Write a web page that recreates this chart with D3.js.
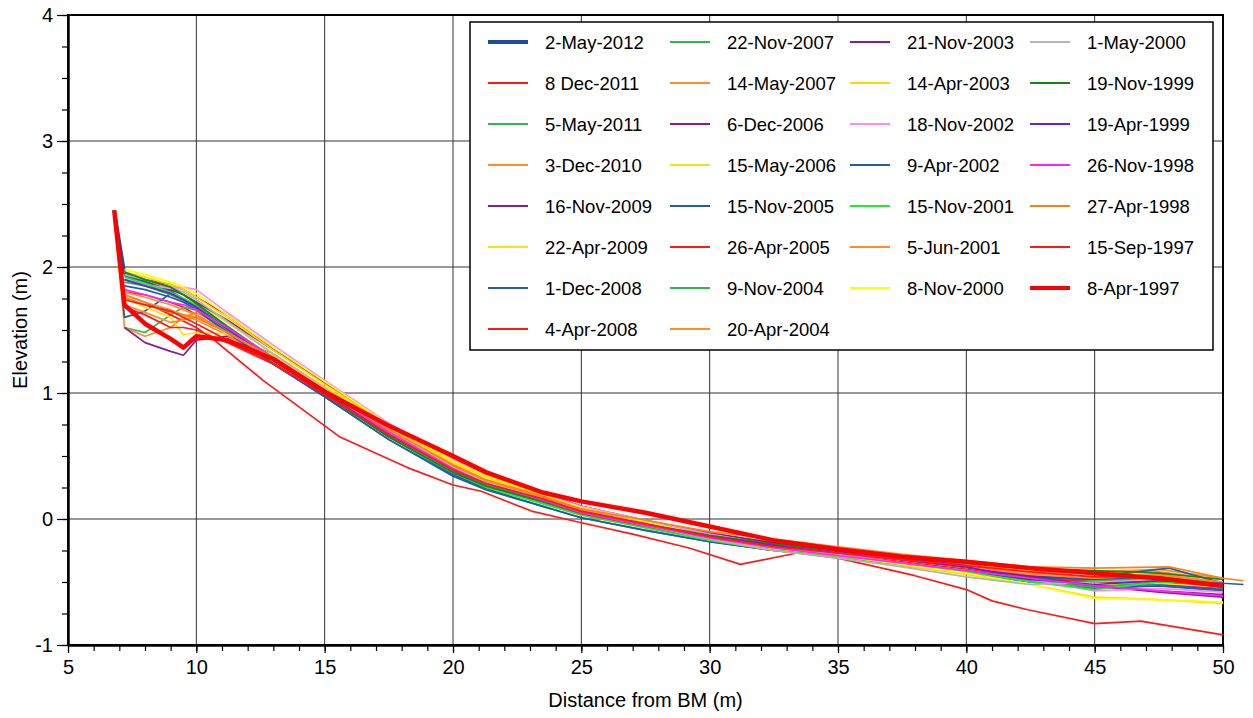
<!DOCTYPE html>
<html>
<head>
<meta charset="utf-8">
<script src="https://cdn.jsdelivr.net/npm/d3@7"></script>
<style>
  body { margin: 0; background: #fff; }
  svg { display: block; font-family: "Liberation Sans", Arial, sans-serif; }
</style>
</head>
<body>
<script>
// survey dates, in legend order (newest first)
var surveyDates = ["2-May-2012", "8 Dec-2011", "5-May-2011", "3-Dec-2010", "16-Nov-2009", "22-Apr-2009", "1-Dec-2008", "4-Apr-2008",
  "22-Nov-2007", "14-May-2007", "6-Dec-2006", "15-May-2006", "15-Nov-2005", "26-Apr-2005", "9-Nov-2004", "20-Apr-2004",
  "21-Nov-2003", "14-Apr-2003", "18-Nov-2002", "9-Apr-2002", "15-Nov-2001", "5-Jun-2001", "8-Nov-2000",
  "1-May-2000", "19-Nov-1999", "19-Apr-1999", "26-Nov-1998", "27-Apr-1998", "15-Sep-1997", "8-Apr-1997"];

// distance from BM (m) shared by most surveys
var distance = [6.8, 7.2, 8, 9, 9.5, 10, 11.2, 13, 15, 17.5, 20, 21.3, 23.5, 25, 27.5, 30, 32.5, 35, 37.5, 40, 42.5, 45, 47.5, 50];
var distanceExt = [6.8, 7.2, 8, 9, 9.5, 10, 11.2, 13, 15, 17.5, 20, 21.3, 23.5, 25, 27.5, 30, 32.5, 35, 37.5, 40, 42.5, 45, 47.9, 50, 50.8];
var distanceApr2008 = [7.2, 8, 9, 10, 10.7, 12.6, 15.6, 18.2, 20, 21.1, 23.1, 25, 27, 29.2, 31.2, 33.4, 35, 38, 40, 41, 42.4, 45, 46.8, 50];

// elevations (m)
var e2May2012 = [2.45, 1.95, 1.88, 1.80, 1.74, 1.68, 1.50, 1.24, 0.99, 0.68, 0.39, 0.28, 0.14, 0.05, -0.05, -0.15, -0.22, -0.27, -0.32, -0.38, -0.46, -0.48, -0.47, -0.52];
var e8Dec2011 = [null, 1.80, 1.78, 1.72, 1.68, 1.62, 1.48, 1.27, 1.02, 0.71, 0.42, 0.30, 0.17, 0.07, -0.04, -0.14, -0.22, -0.28, -0.34, -0.40, -0.47, -0.50, -0.50, -0.55];
var e5May2011 = [null, 1.52, 1.48, 1.62, 1.68, 1.66, 1.52, 1.28, 1.01, 0.67, 0.38, 0.27, 0.14, 0.05, -0.05, -0.15, -0.22, -0.28, -0.34, -0.40, -0.46, -0.50, -0.48, -0.51];
var e3Dec2010 = [2.43, 1.52, 1.45, 1.52, 1.60, 1.64, 1.50, 1.28, 1.01, 0.69, 0.40, 0.28, 0.16, 0.07, -0.03, -0.12, -0.20, -0.26, -0.31, -0.37, -0.43, -0.46, -0.44, -0.50];
var e16Nov2009 = [null, 1.52, 1.40, 1.33, 1.30, 1.42, 1.45, 1.31, 1.04, 0.73, 0.46, 0.34, 0.19, 0.09, -0.02, -0.12, -0.20, -0.26, -0.32, -0.38, -0.45, -0.50, -0.52, -0.55];
var e22Apr2009 = [null, 1.96, 1.90, 1.83, 1.78, 1.72, 1.56, 1.31, 1.05, 0.72, 0.44, 0.31, 0.18, 0.08, -0.03, -0.14, -0.22, -0.28, -0.34, -0.40, -0.47, -0.52, -0.53, -0.56];
var e1Dec2008 = [2.44, 1.60, 1.65, 1.79, 1.74, 1.68, 1.52, 1.27, 1.00, 0.66, 0.37, 0.25, 0.13, 0.04, -0.06, -0.16, -0.24, -0.30, -0.36, -0.42, -0.50, -0.53, -0.52, -0.56];
var e4Apr2008 = [1.78, 1.72, 1.62, 1.52, 1.42, 1.10, 0.65, 0.41, 0.27, 0.22, 0.06, -0.03, -0.12, -0.23, -0.36, -0.27, -0.31, -0.45, -0.56, -0.65, -0.72, -0.83, -0.81, -0.92];
var e22Nov2007 = [null, 1.90, 1.86, 1.79, 1.74, 1.68, 1.51, 1.26, 0.99, 0.65, 0.36, 0.25, 0.13, 0.04, -0.06, -0.16, -0.24, -0.29, -0.35, -0.41, -0.48, -0.49, -0.47, -0.50];
var e14May2007 = [null, 1.78, 1.72, 1.66, 1.62, 1.58, 1.46, 1.25, 1.00, 0.68, 0.39, 0.28, 0.16, 0.06, -0.04, -0.14, -0.21, -0.26, -0.30, -0.35, -0.40, -0.43, -0.42, -0.48];
var e6Dec2006 = [null, 1.94, 1.88, 1.82, 1.78, 1.72, 1.58, 1.34, 1.08, 0.75, 0.47, 0.35, 0.20, 0.10, -0.02, -0.12, -0.20, -0.26, -0.32, -0.38, -0.46, -0.53, -0.57, -0.60];
var e15May2006 = [null, 1.75, 1.68, 1.60, 1.46, 1.48, 1.47, 1.30, 1.04, 0.71, 0.43, 0.31, 0.17, 0.07, -0.04, -0.15, -0.23, -0.29, -0.35, -0.41, -0.48, -0.52, -0.51, -0.54];
var e15Nov2005 = [null, 1.93, 1.88, 1.80, 1.74, 1.67, 1.49, 1.23, 0.97, 0.63, 0.35, 0.24, 0.10, 0.01, -0.09, -0.18, -0.25, -0.30, -0.36, -0.42, -0.50, -0.55, -0.53, -0.57];
var e26Apr2005 = [null, 1.68, 1.62, 1.52, 1.52, 1.50, 1.40, 1.23, 0.98, 0.66, 0.38, 0.27, 0.14, 0.04, -0.06, -0.16, -0.23, -0.28, -0.34, -0.40, -0.47, -0.50, -0.49, -0.54];
var e9Nov2004 = [null, 1.88, 1.85, 1.78, 1.73, 1.67, 1.50, 1.26, 1.00, 0.67, 0.39, 0.27, 0.14, 0.05, -0.05, -0.16, -0.24, -0.29, -0.35, -0.41, -0.49, -0.54, -0.50, -0.52];
var e20Apr2004 = [null, 1.70, 1.64, 1.56, 1.58, 1.60, 1.48, 1.28, 1.02, 0.70, 0.41, 0.29, 0.17, 0.07, -0.03, -0.12, -0.19, -0.24, -0.30, -0.36, -0.42, -0.42, -0.40, -0.47];
var e21Nov2003 = [null, 1.95, 1.90, 1.86, 1.82, 1.76, 1.62, 1.35, 1.08, 0.75, 0.47, 0.36, 0.21, 0.10, -0.01, -0.11, -0.19, -0.25, -0.31, -0.37, -0.46, -0.53, -0.58, -0.62];
var e14Apr2003 = [null, 1.96, 1.92, 1.86, 1.82, 1.76, 1.60, 1.34, 1.07, 0.74, 0.45, 0.33, 0.18, 0.08, -0.03, -0.15, -0.24, -0.30, -0.37, -0.44, -0.52, -0.62, -0.64, -0.67];
var e18Nov2002 = [null, 1.90, 1.86, 1.83, 1.84, 1.82, 1.64, 1.38, 1.10, 0.76, 0.47, 0.35, 0.20, 0.10, -0.01, -0.12, -0.21, -0.28, -0.35, -0.41, -0.48, -0.57, -0.55, -0.58];
var e9Apr2002 = [null, 1.85, 1.82, 1.76, 1.72, 1.66, 1.48, 1.23, 0.97, 0.63, 0.34, 0.23, 0.10, 0.01, -0.09, -0.18, -0.25, -0.30, -0.36, -0.42, -0.48, -0.46, -0.39, -0.51, -0.52];
var e15Nov2001 = [null, 1.92, 1.87, 1.80, 1.75, 1.70, 1.53, 1.28, 1.01, 0.67, 0.37, 0.25, 0.12, 0.03, -0.07, -0.17, -0.25, -0.30, -0.36, -0.42, -0.50, -0.56, -0.50, -0.50];
var e5Jun2001 = [null, 1.80, 1.76, 1.70, 1.66, 1.62, 1.48, 1.27, 1.02, 0.70, 0.41, 0.30, 0.17, 0.07, -0.03, -0.13, -0.21, -0.27, -0.32, -0.38, -0.44, -0.47, -0.45, -0.50];
var e8Nov2000 = [null, 1.98, 1.94, 1.88, 1.84, 1.79, 1.62, 1.36, 1.09, 0.75, 0.46, 0.34, 0.19, 0.09, -0.02, -0.14, -0.23, -0.29, -0.36, -0.43, -0.52, -0.63, -0.64, -0.66];
var e1May2000 = [null, 1.94, 1.90, 1.84, 1.80, 1.74, 1.57, 1.31, 1.04, 0.70, 0.41, 0.29, 0.16, 0.06, -0.05, -0.16, -0.25, -0.31, -0.38, -0.46, -0.52, -0.50, -0.48, -0.52];
var e19Nov1999 = [null, 1.96, 1.90, 1.84, 1.78, 1.71, 1.53, 1.27, 0.99, 0.65, 0.37, 0.26, 0.14, 0.05, -0.04, -0.13, -0.20, -0.25, -0.30, -0.35, -0.39, -0.41, -0.43, -0.48];
var e19Apr1999 = [null, 1.90, 1.85, 1.79, 1.74, 1.68, 1.51, 1.26, 1.00, 0.67, 0.39, 0.28, 0.15, 0.06, -0.04, -0.14, -0.21, -0.27, -0.32, -0.38, -0.48, -0.52, -0.49, -0.51];
var e26Nov1998 = [null, 1.82, 1.78, 1.72, 1.70, 1.66, 1.52, 1.28, 1.02, 0.69, 0.40, 0.28, 0.15, 0.05, -0.05, -0.15, -0.23, -0.29, -0.35, -0.41, -0.47, -0.53, -0.57, -0.61];
var e27Apr1998 = [null, 1.76, 1.70, 1.64, 1.62, 1.60, 1.48, 1.28, 1.02, 0.71, 0.43, 0.31, 0.18, 0.08, -0.01, -0.10, -0.16, -0.22, -0.28, -0.33, -0.38, -0.39, -0.38, -0.47, -0.49];
var e15Sep1997 = [null, 1.74, 1.70, 1.65, 1.60, 1.55, 1.42, 1.23, 0.99, 0.67, 0.39, 0.28, 0.16, 0.06, -0.04, -0.14, -0.22, -0.27, -0.32, -0.37, -0.42, -0.46, -0.46, -0.53];
var e8Apr1997 = [2.45, 1.70, 1.55, 1.43, 1.36, 1.45, 1.42, 1.27, 1.01, 0.74, 0.50, 0.37, 0.21, 0.14, 0.05, -0.06, -0.17, -0.24, -0.30, -0.34, -0.39, -0.43, -0.47, -0.53];

var elevations = [e2May2012, e8Dec2011, e5May2011, e3Dec2010, e16Nov2009, e22Apr2009, e1Dec2008, e4Apr2008,
  e22Nov2007, e14May2007, e6Dec2006, e15May2006, e15Nov2005, e26Apr2005, e9Nov2004, e20Apr2004,
  e21Nov2003, e14Apr2003, e18Nov2002, e9Apr2002, e15Nov2001, e5Jun2001, e8Nov2000,
  e1May2000, e19Nov1999, e19Apr1999, e26Nov1998, e27Apr1998, e15Sep1997, e8Apr1997];

// which distance array each survey uses
var distances = surveyDates.map(function(d) {
  if (d === "4-Apr-2008") return distanceApr2008;
  if (d === "9-Apr-2002" || d === "27-Apr-1998") return distanceExt;
  return distance;
});

var xTicks = [5, 10, 15, 20, 25, 30, 35, 40, 45, 50];
var yTicks = [-1, 0, 1, 2, 3, 4];

// styles
var colors = ["#1b4f9c", "#ff1a1a", "#2cb84a", "#ff8c2a", "#8e1a8e", "#f2e41c", "#1f5fa8", "#ff1a1a",
  "#2cb84a", "#ff8c2a", "#8e1a8e", "#f2e41c", "#1f5fa8", "#ff1a1a", "#2cb84a", "#ff8c2a",
  "#8e1a8e", "#ffd700", "#ff88ff", "#1f5fa8", "#22ee22", "#ff8c2a", "#ffff00",
  "#b4b4b4", "#118811", "#6a1fd6", "#ff22ff", "#ff8010", "#ff1a1a", "#ff0000"];
var widths = surveyDates.map(function(d) {
  if (d === "2-May-2012") return 3.5;
  if (d === "8-Apr-1997") return 4.5;
  return 1.7;
});

var W = 1253, H = 718;
var plotLeft = 68, plotRight = 1223, plotTop = 15, plotBottom = 645;

var svg = d3.select("body").append("svg")
  .attr("width", W)
  .attr("height", H);

var x = d3.scaleLinear().domain([5, 50]).range([plotLeft, plotRight]);
var y = d3.scaleLinear().domain([-1, 4]).range([plotBottom, plotTop]);

// grid
svg.append("g").selectAll("line")
  .data(xTicks.slice(1, -1))
  .enter().append("line")
  .attr("x1", function(d) { return x(d); }).attr("x2", function(d) { return x(d); })
  .attr("y1", plotTop).attr("y2", plotBottom)
  .attr("stroke", "#333").attr("stroke-width", 1);
svg.append("g").selectAll("line")
  .data(yTicks.slice(1, -1))
  .enter().append("line")
  .attr("y1", function(d) { return y(d); }).attr("y2", function(d) { return y(d); })
  .attr("x1", plotLeft).attr("x2", plotRight)
  .attr("stroke", "#333").attr("stroke-width", 1);

// frame
svg.append("rect")
  .attr("x", plotLeft).attr("y", plotTop)
  .attr("width", plotRight - plotLeft).attr("height", plotBottom - plotTop)
  .attr("fill", "none").attr("stroke", "#000").attr("stroke-width", 2);

// profiles
var line = d3.line()
  .defined(function(d) { return d[1] !== null; })
  .x(function(d) { return x(d[0]); })
  .y(function(d) { return y(d[1]); });

svg.append("g").selectAll("path")
  .data(elevations)
  .enter().append("path")
  .attr("d", function(e, i) {
    return line(e.map(function(v, j) { return [distances[i][j], v]; }));
  })
  .attr("fill", "none")
  .attr("stroke", function(e, i) { return colors[i]; })
  .attr("stroke-width", function(e, i) { return widths[i]; })
  .attr("stroke-linejoin", "round");

// axes
var plainFormat = function(d) { return String(d); };
var xAxis = svg.append("g")
  .attr("transform", "translate(0," + plotBottom + ")")
  .call(d3.axisBottom(x).tickValues(xTicks).tickSize(8).tickSizeOuter(0).tickPadding(7).tickFormat(plainFormat));
svg.append("g")
  .attr("transform", "translate(0," + plotBottom + ")")
  .call(d3.axisBottom(x).tickValues(d3.range(5, 51, 1)).tickSize(6).tickSizeOuter(0).tickFormat(""));
var yAxis = svg.append("g")
  .attr("transform", "translate(" + plotLeft + ",0)")
  .call(d3.axisLeft(y).tickValues(yTicks).tickSize(11).tickSizeOuter(0).tickPadding(4).tickFormat(plainFormat));
svg.append("g")
  .attr("transform", "translate(" + plotLeft + ",0)")
  .call(d3.axisLeft(y).tickValues(d3.range(-1, 4.01, 0.25)).tickSize(6).tickSizeOuter(0).tickFormat(""));

svg.selectAll(".domain").attr("stroke", "#000").attr("stroke-width", 2);
svg.selectAll(".tick line").attr("stroke", "#000").attr("stroke-width", 1.2);
xAxis.selectAll("text").style("font-size", "20px").attr("fill", "#000");
yAxis.selectAll("text").style("font-size", "20px").attr("fill", "#000");

// axis titles
svg.append("text")
  .attr("x", (plotLeft + plotRight) / 2).attr("y", 707)
  .attr("text-anchor", "middle")
  .style("font-size", "20px")
  .text("Distance from BM (m)");
svg.append("text")
  .attr("transform", "translate(27," + (plotTop + plotBottom) / 2 + ") rotate(-90)")
  .attr("text-anchor", "middle")
  .style("font-size", "20px")
  .text("Elevation (m)");

// legend
svg.append("rect")
  .attr("x", 470).attr("y", 22)
  .attr("width", 743).attr("height", 328)
  .attr("fill", "#fff").attr("stroke", "#000").attr("stroke-width", 1.5);

var colStarts = [488, 670, 850, 1030];
var rowsPerCol = [8, 8, 7, 7];

var legendItems = svg.append("g").selectAll("g")
  .data(surveyDates)
  .enter().append("g")
  .attr("transform", function(d, i) {
    var col = 0, row = i;
    while (row >= rowsPerCol[col]) { row -= rowsPerCol[col]; col++; }
    return "translate(" + colStarts[col] + "," + (42 + row * 41) + ")";
  });

legendItems.append("line")
  .attr("x1", 0).attr("x2", 40)
  .attr("stroke", function(d, i) { return colors[i]; })
  .attr("stroke-width", function(d, i) { return widths[i] > 2 ? 4 : 2; });

legendItems.append("text")
  .attr("x", 57).attr("y", 6.5)
  .style("font-size", "18.5px")
  .text(function(d) { return d; });
</script>
</body>
</html>
